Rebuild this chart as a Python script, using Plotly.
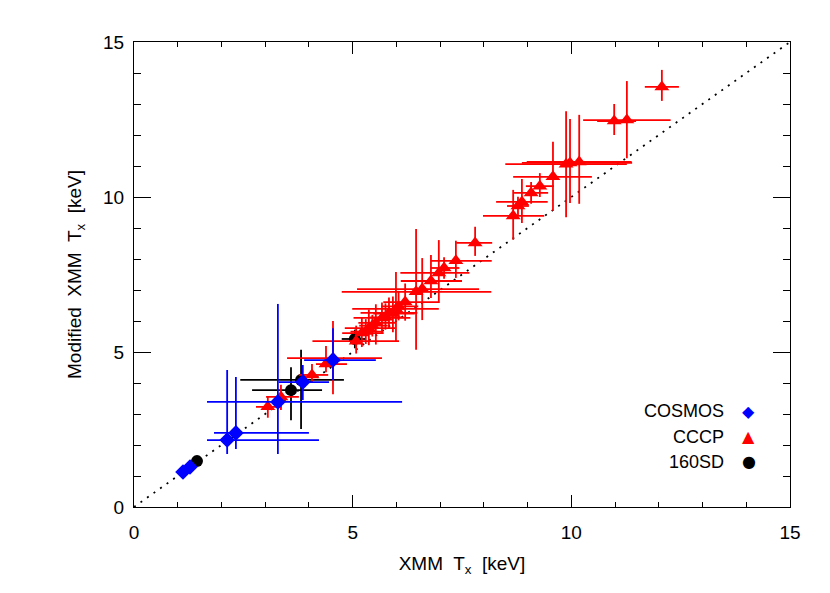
import plotly.graph_objects as go

# ---- data (keV) ----
# COSMOS
cos_x   = [1.12, 1.28, 2.13, 2.33, 3.29, 3.86, 4.55]
cos_y   = [1.13, 1.29, 2.16, 2.39, 3.39, 4.03, 4.74]
cos_xm  = [0.05, 0.05, 0.46, 0.50, 1.62, 0.55, 0.66]
cos_xp  = [0.05, 0.05, 2.10, 1.67, 2.84, 0.60, 0.98]
cos_ym  = [0.05, 0.05, 0.45, 0.52, 1.68, 0.58, 0.65]
cos_yp  = [0.05, 0.05, 2.26, 1.80, 3.16, 0.55, 1.03]

# CCCP
cccp_x  = [3.06, 3.36, 4.07, 4.39, 4.55, 5.08, 5.21, 5.30, 5.37, 5.45, 5.53, 5.67,
           5.75, 5.83, 5.92, 5.99, 6.05, 6.20, 6.45, 6.59, 6.79, 6.97, 7.09, 7.36,
           7.80, 8.67, 8.78, 8.87, 9.08, 9.28, 9.58, 9.88, 9.97, 10.18, 10.98, 11.27, 12.07]
cccp_y  = [3.23, 3.55, 4.26, 4.61, 4.80, 5.35, 5.61, 5.66, 5.77, 5.85, 5.94, 6.10,
           6.12, 6.26, 6.24, 6.39, 6.47, 6.61, 6.94, 7.03, 7.29, 7.55, 7.71, 7.94,
           8.52, 9.39, 9.71, 9.84, 10.13, 10.35, 10.65, 11.06, 11.10, 11.13, 12.45, 12.48, 13.55]
cccp_xm = [0.27, 0.34, 0.30, 0.23, 1.05, 1.00, 0.45, 0.35, 0.55, 0.30, 0.40, 0.65,
           0.35, 0.65, 0.45, 1.00, 0.40, 0.50, 1.70, 1.49, 0.69, 0.88, 0.30, 0.57,
           0.43, 0.69, 0.25, 0.59, 0.39, 0.32, 0.91, 1.39, 1.10, 1.20, 0.39, 1.00, 0.39]
cccp_xp = [0.32, 0.41, 0.37, 0.48, 1.12, 0.98, 0.50, 0.40, 0.60, 0.35, 0.45, 0.65,
           0.40, 0.65, 0.50, 0.98, 0.45, 0.78, 1.72, 1.30, 0.71, 0.70, 0.35, 0.82,
           0.39, 0.71, 0.25, 0.59, 0.39, 0.32, 0.89, 1.39, 1.42, 1.20, 0.50, 1.00, 0.39]
cccp_ym = [0.35, 0.42, 0.26, 0.26, 1.16, 0.40, 0.45, 0.40, 0.55, 0.35, 0.70, 0.50,
           0.40, 0.50, 0.60, 1.06, 0.45, 0.60, 1.87, 1.00, 0.55, 0.97, 0.35, 0.55,
           0.42, 0.77, 0.30, 0.68, 0.35, 0.35, 1.09, 1.71, 1.29, 1.35, 0.45, 1.23, 0.45]
cccp_yp = [0.32, 0.39, 0.35, 0.58, 1.20, 0.50, 0.50, 0.40, 0.60, 0.35, 0.60, 0.50,
           0.45, 0.50, 0.55, 1.19, 0.50, 0.60, 2.03, 1.00, 0.84, 1.06, 0.35, 0.65,
           0.52, 0.84, 0.30, 0.74, 0.35, 0.42, 1.13, 1.71, 1.42, 1.52, 0.55, 1.26, 0.55]

# 160SD
sd_x  = [1.44, 3.59, 3.82, 5.05]
sd_y  = [1.48, 3.77, 4.10, 5.42]
sd_xm = [0.05, 0.89, 1.39, 0.30]
sd_xp = [0.05, 0.71, 0.98, 0.25]
sd_ym = [0.05, 0.97, 1.58, 0.30]
sd_yp = [0.05, 0.74, 0.97, 0.30]

legend_labels = ["COSMOS", "CCCP", "160SD"]
one_to_one = [0, 15]

FONT = "Liberation Sans"


def err(p, m, color):
    return dict(type="data", symmetric=False, array=p, arrayminus=m,
                color=color, thickness=1.8, width=0)


fig = go.Figure()

fig.add_trace(go.Scatter(x=one_to_one, y=one_to_one, mode="lines",
                         line=dict(color="black", width=1.8, dash="2px,6px"),
                         showlegend=False, hoverinfo="skip"))

fig.add_trace(go.Scatter(x=sd_x, y=sd_y, mode="markers",
                         marker=dict(symbol="circle", size=12, color="black"),
                         error_x=err(sd_xp, sd_xm, "black"),
                         error_y=err(sd_yp, sd_ym, "black"),
                         name="160SD", showlegend=False))

fig.add_trace(go.Scatter(x=cccp_x, y=cccp_y, mode="markers",
                         marker=dict(symbol="triangle-up", size=13, color="#ff0000"),
                         error_x=err(cccp_xp, cccp_xm, "#ff0000"),
                         error_y=err(cccp_yp, cccp_ym, "#ff0000"),
                         name="CCCP", showlegend=False))

fig.add_trace(go.Scatter(x=cos_x, y=cos_y, mode="markers",
                         marker=dict(symbol="diamond", size=12, color="#0000ff"),
                         error_x=err(cos_xp, cos_xm, "#0000ff"),
                         error_y=err(cos_yp, cos_ym, "#0000ff"),
                         name="COSMOS", showlegend=False))

# legend (labels to the left of the symbols)
leg_y = [0.206, 0.151, 0.097]
leg_sym = ["◆", "▲", "●"]
leg_col = ["#0000ff", "#ff0000", "black"]
for lab, yy, s, c in zip(legend_labels, leg_y, leg_sym, leg_col):
    fig.add_annotation(xref="paper", yref="paper", x=0.902, y=yy, text=lab,
                       showarrow=False, xanchor="right", yanchor="middle",
                       font=dict(family=FONT, size=18, color="black"))
    fig.add_annotation(xref="paper", yref="paper", x=0.937, y=yy, text=s,
                       showarrow=False, xanchor="center", yanchor="middle",
                       font=dict(family="DejaVu Sans", size=16, color=c))

axis_common = dict(
    range=[0, 15], tickvals=[0, 5, 10, 15], ticktext=["0", "5", "10", "15"],
    showgrid=False, zeroline=False, showline=True, linecolor="black", linewidth=1,
    mirror="allticks", ticks="inside", tickcolor="black", tickwidth=1,
    tickfont=dict(family=FONT, size=19, color="black"),
)

fig.update_xaxes(**axis_common, ticklen=12, ticklabelstandoff=8,
                 minor=dict(dtick=1, ticks="inside", ticklen=5, tickcolor="black", showgrid=False),
                 title=dict(text="XMM  T<sub>x</sub>  [keV]", font=dict(family=FONT, size=19, color="black"),
                            standoff=14))
fig.update_yaxes(**axis_common, ticklen=17, ticklabelstandoff=5,
                 minor=dict(dtick=1, ticks="inside", ticklen=7, tickcolor="black", showgrid=False),
                 title=dict(text="Modified  XMM  T<sub>x</sub>  [keV]", font=dict(family=FONT, size=19, color="black"),
                            standoff=16))

fig.update_layout(
    width=830, height=593,
    margin=dict(l=126, r=48, t=34, b=94),
    plot_bgcolor="white", paper_bgcolor="white",
    showlegend=False,
)

fig.write_html("out.html")
